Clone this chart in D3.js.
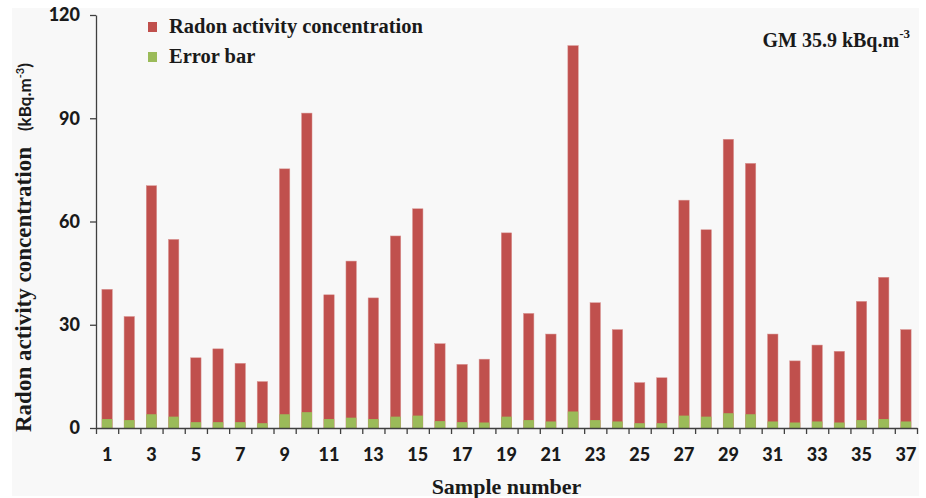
<!DOCTYPE html>
<html>
<head>
<meta charset="utf-8">
<script src="https://cdn.jsdelivr.net/npm/d3@7"></script>
<style>
  body { margin: 0; background: #fff; }
  svg { display: block; }
</style>
</head>
<body>
<div id="chart"></div>
<script>
// Sample numbers along the x axis
const samples = [1, 2, 3, 4, 5, 6, 7, 8, 9, 10, 11, 12, 13, 14, 15, 16, 17, 18, 19,
    20, 21, 22, 23, 24, 25, 26, 27, 28, 29, 30, 31, 32, 33, 34, 35, 36, 37];

// Radon activity concentration (kBq.m-3)
const radon = [40.3, 32.4, 70.4, 54.8, 20.4, 23.0, 18.8, 13.5, 75.3, 91.5, 38.7, 48.5,
    37.8, 55.8, 63.7, 24.5, 18.5, 20.0, 56.7, 33.3, 27.3, 111.1, 36.4, 28.6, 13.2,
    14.6, 66.2, 57.6, 83.9, 76.9, 27.3, 19.5, 24.1, 22.3, 36.8, 43.8, 28.6];

// Error bar values
const errors = [2.6, 2.3, 4.0, 3.3, 1.7, 1.7, 1.7, 1.4, 4.0, 4.6, 2.6, 3.0, 2.6, 3.3,
    3.6, 2.0, 1.7, 1.6, 3.3, 2.3, 1.9, 4.8, 2.3, 1.9, 1.4, 1.4, 3.6, 3.3, 4.3, 4.0,
    1.9, 1.6, 1.9, 1.6, 2.3, 2.6, 1.9];

const yTicks = [0, 30, 60, 90, 120];
const xLabels = [1, 3, 5, 7, 9, 11, 13, 15, 17, 19, 21, 23, 25, 27, 29, 31, 33, 35, 37];

const W = 926, H = 498;
const margin = { top: 15, right: 9, bottom: 70, left: 96 };
const width = W - margin.left - margin.right;
const height = H - margin.top - margin.bottom;

const sans = "Lato, 'Open Sans', sans-serif";
const serif = "'Liberation Serif', 'Times New Roman', serif";
const axisColor = "#404040";

const svg = d3.select("#chart").append("svg")
    .attr("width", W)
    .attr("height", H)
    .attr("viewBox", `0 0 ${W} ${H}`);

// light grey panel like the original figure
svg.append("rect")
    .attr("x", 12).attr("y", 8)
    .attr("width", 907).attr("height", 488)
    .attr("fill", "#f8f8f8");

const g = svg.append("g")
    .attr("transform", `translate(${margin.left},${margin.top})`);

const data = samples.map((s, i) => ({ sample: s, value: radon[i], err: errors[i] }));

const x = d3.scaleBand()
    .domain(samples)
    .range([0, width])
    .paddingInner(0.53)
    .paddingOuter(0.265);

// edge scale for the tick marks between categories
const xEdge = d3.scaleLinear()
    .domain([0, samples.length])
    .range([0, width]);

const y = d3.scaleLinear()
    .domain([0, 120])
    .range([height, 0]);

// bars
g.append("g").selectAll("rect")
    .data(data)
    .join("rect")
    .attr("x", d => x(d.sample))
    .attr("y", d => y(d.value))
    .attr("width", x.bandwidth())
    .attr("height", d => y(0) - y(d.value))
    .attr("fill", "#c0504d")
    .attr("stroke", "#d99694")
    .attr("stroke-width", 0.5);

// error bar part at the base
g.append("g").selectAll("rect")
    .data(data)
    .join("rect")
    .attr("x", d => x(d.sample))
    .attr("y", d => y(d.err))
    .attr("width", x.bandwidth())
    .attr("height", d => y(0) - y(d.err))
    .attr("fill", "#9bbb59");

// y axis
const yAxis = g.append("g")
    .call(d3.axisLeft(y).tickValues(yTicks).tickSize(6).tickSizeOuter(0).tickPadding(10));
yAxis.select(".domain").attr("stroke", axisColor).attr("stroke-width", 1.3);
yAxis.selectAll(".tick line").attr("stroke", axisColor).attr("stroke-width", 1.3);
yAxis.selectAll("text")
    .attr("font-family", sans)
    .attr("font-weight", "900")
    .attr("font-size", "18px")
    .attr("fill", "#1a1a1a");

// x axis: tick marks on category edges
const xAxisTicks = g.append("g")
    .attr("transform", `translate(0,${height})`)
    .call(d3.axisBottom(xEdge).tickValues(d3.range(0, samples.length + 1)).tickFormat("").tickSize(6).tickSizeOuter(0));
xAxisTicks.select(".domain").attr("stroke", axisColor).attr("stroke-width", 1.3);
xAxisTicks.selectAll(".tick line").attr("stroke", axisColor).attr("stroke-width", 1.3);

// x axis labels centred under the bars
const xAxisLabels = g.append("g")
    .attr("transform", `translate(0,${height})`)
    .call(d3.axisBottom(x).tickValues(xLabels).tickSize(0).tickPadding(20));
xAxisLabels.select(".domain").remove();
xAxisLabels.selectAll("text")
    .attr("font-family", sans)
    .attr("font-weight", "900")
    .attr("font-size", "18px")
    .attr("fill", "#1a1a1a");

// x axis title
svg.append("text")
    .attr("x", margin.left + width / 2)
    .attr("y", 494)
    .attr("text-anchor", "middle")
    .attr("font-family", serif)
    .attr("font-weight", "bold")
    .attr("font-size", "22px")
    .attr("fill", "#1a1a1a")
    .text("Sample number");

// y axis title
const yTitle = svg.append("text")
    .attr("transform", "translate(31,432) rotate(-90)")
    .attr("font-weight", "bold")
    .attr("fill", "#1a1a1a");
yTitle.append("tspan")
    .attr("font-family", serif)
    .attr("font-size", "23px")
    .text("Radon activity concentration");
yTitle.append("tspan")
    .attr("font-family", sans)
    .attr("font-size", "17px")
    .attr("dx", 16)
    .text("(kBq.m");
yTitle.append("tspan")
    .attr("font-family", sans)
    .attr("font-size", "11px")
    .attr("dy", -7)
    .text("-3");
yTitle.append("tspan")
    .attr("font-family", sans)
    .attr("font-size", "17px")
    .attr("dy", 7)
    .text(")");

// legend
const legendItems = [
    { label: "Radon activity concentration", color: "#c0504d" },
    { label: "Error bar", color: "#9bbb59" }
];
const legend = svg.append("g").attr("transform", "translate(148,22)");
legend.selectAll("rect")
    .data(legendItems)
    .join("rect")
    .attr("x", 0)
    .attr("y", (d, i) => i * 30)
    .attr("width", 9)
    .attr("height", 10)
    .attr("fill", d => d.color);
legend.selectAll("text")
    .data(legendItems)
    .join("text")
    .attr("x", 21)
    .attr("y", (d, i) => i * 30 + 11)
    .attr("font-family", serif)
    .attr("font-weight", "bold")
    .attr("font-size", "20.5px")
    .attr("fill", "#1a1a1a")
    .text(d => d.label);

// geometric mean note
const gm = svg.append("text")
    .attr("x", 910)
    .attr("y", 47)
    .attr("text-anchor", "end")
    .attr("font-family", serif)
    .attr("font-weight", "bold")
    .attr("font-size", "20px")
    .attr("fill", "#1a1a1a");
gm.append("tspan").text("GM 35.9 kBq.m");
gm.append("tspan").attr("font-size", "13px").attr("dy", -9).text("-3");
</script>
</body>
</html>
